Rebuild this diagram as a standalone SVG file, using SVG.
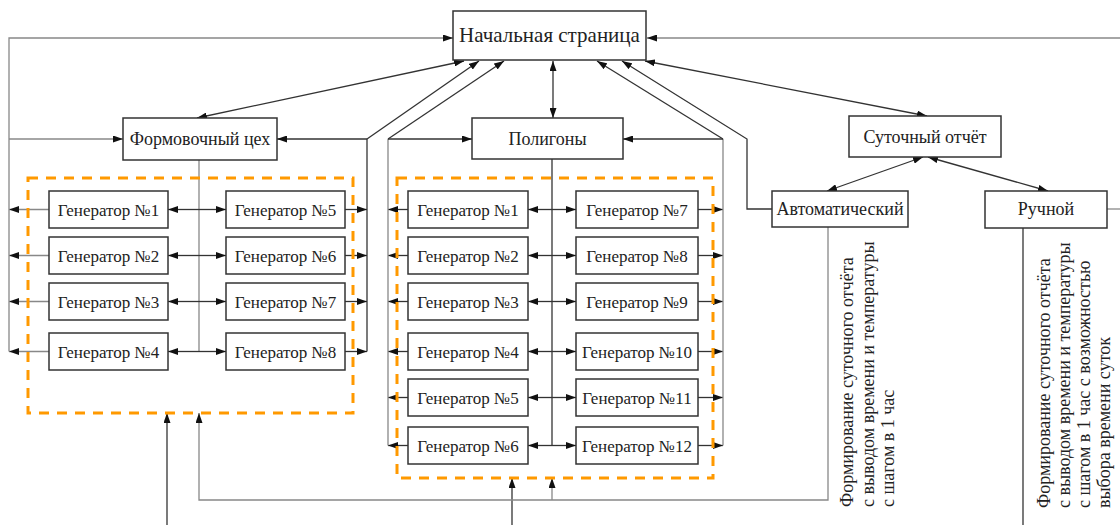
<svg xmlns="http://www.w3.org/2000/svg" width="1120" height="525" viewBox="0 0 1120 525">
<defs>
<marker id="ar" viewBox="0 0 10 7" refX="10" refY="3.5" markerWidth="10" markerHeight="7" markerUnits="userSpaceOnUse" orient="auto-start-reverse">
<path d="M0,0 L10,3.5 L0,7 z" fill="#111"/>
</marker>
<style>
.bx{fill:#fff;stroke:#333;stroke-width:1.5}
.t{font-family:"Liberation Serif","Times New Roman",serif;fill:#222;text-anchor:middle}
.g{font-size:17px}
.m{font-size:18px}
.c{fill:none;stroke:#333;stroke-width:1.3}
.lt{stroke:#888}
.a{marker-end:url(#ar)}
.b{marker-start:url(#ar);marker-end:url(#ar)}
.dash{fill:none;stroke:#F90;stroke-width:3;stroke-dasharray:10 8}
.r{font-family:"Liberation Serif","Times New Roman",serif;fill:#222;font-size:18px}
</style>
</defs>
<g id="connectors">
<!-- left loop -->
<path class="c lt a" d="M49,209.5 H9"/>
<path class="c lt a" d="M49,255.5 H9"/>
<path class="c lt a" d="M49,301.5 H9"/>
<path class="c lt a" d="M49,351.5 H9"/>
<path class="c lt a" d="M9,351.5 V38 H453"/>
<path class="c lt a" d="M9,139 H123"/>
<!-- Формовочный center -->
<path class="c lt" d="M199,160 V351.5"/>
<path class="c a" d="M199,209.5 H168"/><path class="c a" d="M199,209.5 H226"/>
<path class="c a" d="M199,255.5 H168"/><path class="c a" d="M199,255.5 H226"/>
<path class="c a" d="M199,301.5 H168"/><path class="c a" d="M199,301.5 H226"/>
<path class="c a" d="M199,351.5 H168"/><path class="c a" d="M199,351.5 H226"/>
<!-- Формовочный right -->
<path class="c a" d="M345,209.5 H367"/>
<path class="c a" d="M345,255.5 H367"/>
<path class="c a" d="M345,301.5 H367"/>
<path class="c a" d="M345,351.5 H367"/>
<path class="c" d="M367,351.5 V139"/>
<path class="c a" d="M367,139 H277"/>
<path class="c a" d="M367,139 L479,61"/>
<!-- Полигоны left -->
<path class="c a" d="M408,209.5 H388"/>
<path class="c a" d="M408,255.5 H388"/>
<path class="c a" d="M408,301.5 H388"/>
<path class="c a" d="M408,351.5 H388"/>
<path class="c a" d="M408,397.5 H388"/>
<path class="c a" d="M408,445.5 H388"/>
<path class="c lt" d="M388,445.5 V139"/>
<path class="c a" d="M388,139 H472"/>
<path class="c a" d="M388,139 L504,61"/>
<!-- Полигоны center -->
<path class="c" d="M552,159 V445.5"/>
<path class="c a" d="M552,209.5 H528"/><path class="c a" d="M552,209.5 H576"/>
<path class="c a" d="M552,255.5 H528"/><path class="c a" d="M552,255.5 H576"/>
<path class="c a" d="M552,301.5 H528"/><path class="c a" d="M552,301.5 H576"/>
<path class="c a" d="M552,351.5 H528"/><path class="c a" d="M552,351.5 H576"/>
<path class="c a" d="M552,397.5 H528"/><path class="c a" d="M552,397.5 H576"/>
<path class="c a" d="M552,445.5 H528"/><path class="c a" d="M552,445.5 H576"/>
<!-- Полигоны right -->
<path class="c a" d="M698,209.5 H723"/>
<path class="c a" d="M698,255.5 H723"/>
<path class="c a" d="M698,301.5 H723"/>
<path class="c a" d="M698,351.5 H723"/>
<path class="c a" d="M698,397.5 H723"/>
<path class="c a" d="M698,445.5 H723"/>
<path class="c lt" d="M723,445.5 V139"/>
<path class="c a" d="M723,139 H623"/>
<path class="c a" d="M723,139 L597,61"/>
<!-- Автоматический to top -->
<path class="c a" d="M772,209 H747 V139 L622,61"/>
<!-- top links -->
<path class="c b" d="M553,61 V118"/>
<path class="c b" d="M464,61 L197,118"/>
<path class="c b" d="M645,61 L927,116"/>
<path class="c b" d="M923,157 L827,191"/>
<path class="c b" d="M928,157 L1048,191"/>
<path class="c lt a" d="M1120,38 H647"/>
<path class="c lt" d="M1107,209 H1120"/>
<!-- bottom -->
<path class="c a" d="M167,525 V413"/>
<path class="c a" d="M512,525 V478"/>
<path class="c lt a" d="M828,227 V500 H199 V413"/>
<path class="c lt a" d="M552,500 V478"/>
<path class="c" d="M1023,228 V525"/>
</g>
<g id="groups">
<rect class="dash" x="28" y="178" width="325" height="235"/>
<rect class="dash" x="397" y="178" width="316" height="300"/>
</g>
<g id="n-start"><rect class="bx" x="453" y="11" width="193" height="49"/><text class="t" x="549.5" y="42" font-size="21">Начальная страница</text></g>
<g id="n-form"><rect class="bx" x="123" y="118" width="154" height="42"/><text class="t m" x="200" y="145">Формовочный цех</text></g>
<g id="n-poly"><rect class="bx" x="472" y="118" width="151" height="41"/><text class="t m" x="547.5" y="145">Полигоны</text></g>
<g id="n-sut"><rect class="bx" x="849" y="116" width="152" height="41"/><text class="t m" x="925" y="143">Суточный отчёт</text></g>
<g id="n-auto"><rect class="bx" x="772" y="191" width="136" height="36"/><text class="t m" x="840" y="215">Автоматический</text></g>
<g id="n-ruch"><rect class="bx" x="985" y="191" width="122" height="37"/><text class="t m" x="1046" y="215">Ручной</text></g>
<g id="f1"><rect class="bx" x="49" y="191" width="119" height="37"/><text class="t g" x="108.5" y="215.5">Генератор №1</text></g>
<g id="f2"><rect class="bx" x="49" y="237" width="119" height="37"/><text class="t g" x="108.5" y="261.5">Генератор №2</text></g>
<g id="f3"><rect class="bx" x="49" y="283" width="119" height="37"/><text class="t g" x="108.5" y="307.5">Генератор №3</text></g>
<g id="f4"><rect class="bx" x="49" y="333" width="119" height="37"/><text class="t g" x="108.5" y="357.5">Генератор №4</text></g>
<g id="f5"><rect class="bx" x="226" y="191" width="119" height="37"/><text class="t g" x="285.5" y="215.5">Генератор №5</text></g>
<g id="f6"><rect class="bx" x="226" y="237" width="119" height="37"/><text class="t g" x="285.5" y="261.5">Генератор №6</text></g>
<g id="f7"><rect class="bx" x="226" y="283" width="119" height="37"/><text class="t g" x="285.5" y="307.5">Генератор №7</text></g>
<g id="f8"><rect class="bx" x="226" y="333" width="119" height="37"/><text class="t g" x="285.5" y="357.5">Генератор №8</text></g>
<g id="p1"><rect class="bx" x="408" y="191" width="120" height="37"/><text class="t g" x="468" y="215.5">Генератор №1</text></g>
<g id="p2"><rect class="bx" x="408" y="237" width="120" height="37"/><text class="t g" x="468" y="261.5">Генератор №2</text></g>
<g id="p3"><rect class="bx" x="408" y="283" width="120" height="37"/><text class="t g" x="468" y="307.5">Генератор №3</text></g>
<g id="p4"><rect class="bx" x="408" y="333" width="120" height="37"/><text class="t g" x="468" y="357.5">Генератор №4</text></g>
<g id="p5"><rect class="bx" x="408" y="379" width="120" height="37"/><text class="t g" x="468" y="403.5">Генератор №5</text></g>
<g id="p6"><rect class="bx" x="408" y="427" width="120" height="37"/><text class="t g" x="468" y="451.5">Генератор №6</text></g>
<g id="p7"><rect class="bx" x="576" y="191" width="122" height="37"/><text class="t g" x="637" y="215.5">Генератор №7</text></g>
<g id="p8"><rect class="bx" x="576" y="237" width="122" height="37"/><text class="t g" x="637" y="261.5">Генератор №8</text></g>
<g id="p9"><rect class="bx" x="576" y="283" width="122" height="37"/><text class="t g" x="637" y="307.5">Генератор №9</text></g>
<g id="p10"><rect class="bx" x="576" y="333" width="122" height="37"/><text class="t g" x="637" y="357.5">Генератор №10</text></g>
<g id="p11"><rect class="bx" x="576" y="379" width="122" height="37"/><text class="t g" x="637" y="403.5">Генератор №11</text></g>
<g id="p12"><rect class="bx" x="576" y="427" width="122" height="37"/><text class="t g" x="637" y="451.5">Генератор №12</text></g>
<g id="auto-note">
<text class="r" transform="translate(853,507) rotate(-90)">Формирование суточного отчёта</text>
<text class="r" transform="translate(874,507) rotate(-90)">с выводом времени и температуры</text>
<text class="r" transform="translate(894,507) rotate(-90)">с шагом в 1 час</text>
</g>
<g id="ruch-note">
<text class="r" transform="translate(1050,508) rotate(-90)">Формирование суточного отчёта</text>
<text class="r" transform="translate(1070,508) rotate(-90)">с выводом времени и температуры</text>
<text class="r" transform="translate(1090,508) rotate(-90)">с шагом в 1 час с возможностью</text>
<text class="r" transform="translate(1110,508) rotate(-90)">выбора времени суток</text>
</g>
</svg>
